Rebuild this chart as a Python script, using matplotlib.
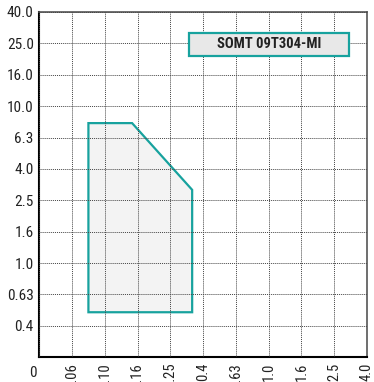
import numpy as np
import matplotlib
matplotlib.use("Agg")
import matplotlib.pyplot as plt
from matplotlib.patches import Polygon, Rectangle
from matplotlib import font_manager

names = {f.name for f in font_manager.fontManager.ttflist}
cond = [n for n in ['Roboto Condensed', 'Open Sans Condensed', 'Liberation Sans Narrow',
                    'DejaVu Sans Condensed', 'Roboto'] if n in names]
plt.rcParams['font.family'] = cond[:1] + ['DejaVu Sans']

# axis tick values (evenly spaced on the chart)
x_ticks = [0, 0.06, 0.10, 0.16, 0.25, 0.4, 0.63, 1.0, 1.6, 2.5, 4.0]
x_labels = ['', '0.06', '0.10', '0.16', '0.25', '0.4', '0.63', '1.0', '1.6', '2.5', '4.0']
y_ticks = [0, 0.4, 0.63, 1.0, 1.6, 2.5, 4.0, 6.3, 10.0, 16.0, 25.0, 40.0]
y_labels = ['', '0.4', '0.63', '1.0', '1.6', '2.5', '4.0', '6.3', '10.0', '16.0', '25.0', '40.0']

# working area (feed, depth of cut)
area_f = [0.08, 0.08, 0.15, 0.35, 0.35]
area_ap = [0.5, 8.0, 8.0, 3.0, 0.5]

title = 'SOMT 09T304-MI'
teal = '#17a29e'


def make_scale(ticks):
    # piecewise linear between the evenly spaced ticks
    idx = np.arange(len(ticks), dtype=float)
    t = np.array(ticks, dtype=float)
    fwd = lambda v: np.interp(v, t, idx)
    inv = lambda i: np.interp(i, idx, t)
    return fwd, inv


fig = plt.figure(figsize=(3.74, 3.82), dpi=100)
ax = fig.add_axes([0.105, 0.0647, 0.876, 0.904])
ax.set_xscale('function', functions=make_scale(x_ticks))
ax.set_yscale('function', functions=make_scale(y_ticks))
ax.set_xlim(x_ticks[0], x_ticks[-1])
ax.set_ylim(y_ticks[0], y_ticks[-1])

ax.set_xticks(x_ticks)
ax.set_xticklabels(x_labels, rotation=90, fontsize=10.5, color='#222222')
ax.set_yticks(y_ticks)
ax.set_yticklabels(y_labels, fontsize=11, color='#222222')
ax.tick_params(length=0, pad=4)
ax.minorticks_off()

ax.grid(True, linestyle=(0, (1, 1)), color='#444444', linewidth=0.7)
ax.set_axisbelow(False)

for s in ['left', 'bottom']:
    ax.spines[s].set_linewidth(1.5)
    ax.spines[s].set_color('black')
for s in ['top', 'right']:
    ax.spines[s].set_linewidth(1.2)
    ax.spines[s].set_color('#555555')

poly = Polygon(list(zip(area_f, area_ap)), closed=True, facecolor='#f3f3f3',
               edgecolor=teal, linewidth=1.6, zorder=1)
ax.add_patch(poly)

box = Rectangle((0.457, 0.873), 0.488, 0.066, transform=ax.transAxes,
                facecolor='#e8e8e8', edgecolor=teal, linewidth=1.6, zorder=4)
ax.add_patch(box)
ax.text(0.701, 0.906, title, transform=ax.transAxes, ha='center', va='center',
        fontsize=10.5, fontweight='bold', color='#222222', zorder=5)
ax.text(-0.02, -0.045, '0', transform=ax.transAxes, ha='center', va='center',
        fontsize=11, color='#222222')

fig.savefig('out.png', dpi=100)
